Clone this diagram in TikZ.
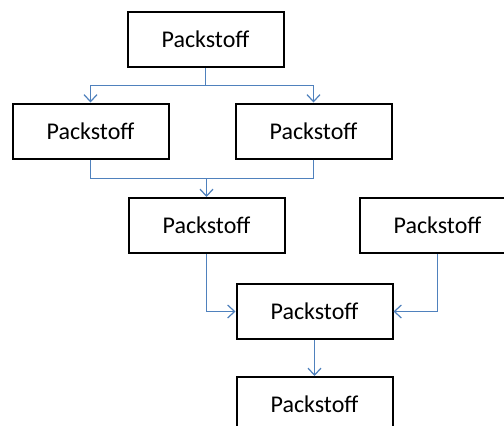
\documentclass[tikz,border=0pt]{standalone}
\usepackage{fontspec}
\setmainfont{Carlito}
\usepackage{xcolor}
\usetikzlibrary{arrows.meta, positioning, calc}
\definecolor{linkblue}{RGB}{79,129,189}

\begin{document}
\begin{tikzpicture}[x=1pt, y=-1pt,
    box/.style={draw, line width=2pt, fill=white, minimum width=156pt, minimum height=55pt, font=\fontsize{24}{28}\selectfont},
    link/.style={draw=linkblue, line width=1.3pt},
    arr/.style={link, -{Straight Barb[length=7pt, width=13pt, line width=1.2pt]}}]
\clip (0,0) rectangle (504,426);
\fill[white] (0,0) rectangle (504,426);

% boxes
\node[box] (top) at (205.5,39.5) {Packstoff};
\node[box] (left) at (90.5,131) {Packstoff};
\node[box] (right) at (313.5,131) {Packstoff};
\node[box] (mid) at (206.5,225.5) {Packstoff};
\node[box] (side) at (437.5,225.5) {Packstoff};
\node[box] (join) at (314.5,311.5) {Packstoff};
\node[box] (bottom) at (314.5,404.5) {Packstoff};

% split and merge points
\coordinate (split) at (205.5,85.5);
\coordinate (merge) at (206.5,178.5);

% connectors
\draw[link] (top) -- (split);
\draw[arr] (split) -| (left);
\draw[arr] (split) -| (right);
\draw[link] (left) |- (merge);
\draw[link] (right) |- (merge);
\draw[arr] (merge) -- (mid);
\draw[arr] (mid) |- (join);
\draw[arr] (side) |- (join);
\draw[arr] (join) -- (bottom);

\end{tikzpicture}
\end{document}
